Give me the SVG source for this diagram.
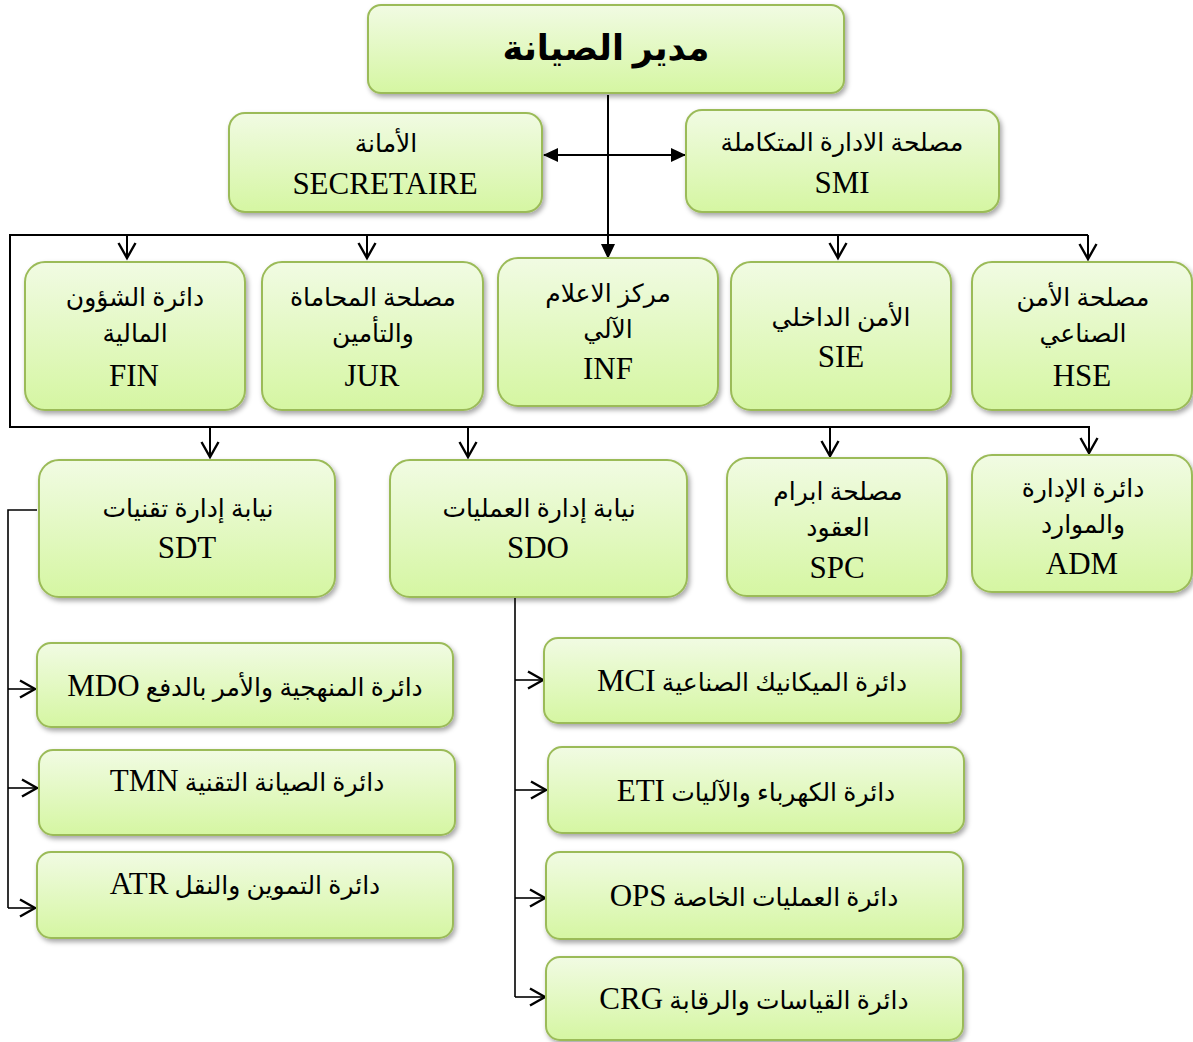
<svg xmlns="http://www.w3.org/2000/svg" width="1193" height="1042" viewBox="0 0 1193 1042">
<defs>
<linearGradient id="g" x1="0" y1="0" x2="0" y2="1">
<stop offset="0" stop-color="#f1fbe3"/>
<stop offset="1" stop-color="#d5f6a2"/>
</linearGradient>
<filter id="sh" x="-10%" y="-10%" width="125%" height="130%">
<feDropShadow dx="2" dy="3" stdDeviation="2.5" flood-color="#000" flood-opacity="0.35"/>
</filter>
<marker id="open" markerUnits="userSpaceOnUse" markerWidth="20" markerHeight="22" refX="17" refY="10" orient="auto" viewBox="0 0 20 22">
<path d="M2,1.5 L17,10 L2,18.5" fill="none" stroke="#000" stroke-width="2.4"/>
</marker>
<marker id="fill" markerUnits="userSpaceOnUse" markerWidth="16" markerHeight="14" refX="14" refY="7" orient="auto" viewBox="0 0 16 14">
<path d="M0,0 L15,7 L0,14 Z" fill="#000"/>
</marker>
<marker id="fillS" markerUnits="userSpaceOnUse" markerWidth="16" markerHeight="14" refX="2" refY="7" orient="auto" viewBox="0 0 16 14">
<path d="M16,0 L1,7 L16,14 Z" fill="#000"/>
</marker>
</defs>
<style>
.box{fill:url(#g);stroke:#9bbb59;stroke-width:2;filter:url(#sh)}
.ar{font-family:"Liberation Serif","DejaVu Sans",serif;font-size:25px;fill:#000;text-anchor:middle}
.la{font-family:"Liberation Serif","DejaVu Serif",serif;font-size:31px;fill:#000;text-anchor:middle}
.lt2{font-family:"Liberation Serif",serif;font-size:31px}
.ln{fill:none;stroke:#000;stroke-width:2}
.lt{fill:none;stroke:#000;stroke-width:1.6}
</style>
<g id="connectors">
<line class="ln" x1="608" y1="95" x2="608" y2="258" marker-end="url(#fill)"/>
<line class="ln" x1="544" y1="155" x2="685" y2="155" marker-start="url(#fillS)" marker-end="url(#fill)"/>
<polyline class="ln" points="1088,235 10,235 10,427 1090,427"/>
<line class="ln" x1="127" y1="235" x2="127" y2="258" marker-end="url(#open)"/>
<line class="ln" x1="367" y1="235" x2="367" y2="258" marker-end="url(#open)"/>
<line class="ln" x1="838" y1="235" x2="838" y2="258" marker-end="url(#open)"/>
<line class="ln" x1="1088" y1="235" x2="1088" y2="259" marker-end="url(#open)"/>
<line class="ln" x1="210" y1="427" x2="210" y2="457" marker-end="url(#open)"/>
<line class="ln" x1="468" y1="427" x2="468" y2="457" marker-end="url(#open)"/>
<line class="ln" x1="830" y1="427" x2="830" y2="456" marker-end="url(#open)"/>
<line class="ln" x1="1089" y1="427" x2="1089" y2="453" marker-end="url(#open)"/>
<polyline class="lt" points="37,510 8,510 8,908"/>
<line class="lt" x1="8" y1="689" x2="35" y2="689" marker-end="url(#open)"/>
<line class="lt" x1="8" y1="788" x2="37" y2="788" marker-end="url(#open)"/>
<line class="lt" x1="8" y1="908" x2="35" y2="908" marker-end="url(#open)"/>
<line class="lt" x1="515" y1="598" x2="515" y2="997"/>
<line class="lt" x1="515" y1="680" x2="543" y2="680" marker-end="url(#open)"/>
<line class="lt" x1="515" y1="790" x2="546" y2="790" marker-end="url(#open)"/>
<line class="lt" x1="515" y1="898" x2="545" y2="898" marker-end="url(#open)"/>
<line class="lt" x1="515" y1="997" x2="545" y2="997" marker-end="url(#open)"/>
</g>
<g id="n-dir"><rect class="box" x="368" y="5" width="476" height="88" rx="13"/>
<text x="606" y="60" direction="rtl" style="font-family:'Liberation Serif','DejaVu Sans',serif;font-size:35px;font-weight:bold;text-anchor:middle">مدير الصيانة</text></g>
<g id="n-sec"><rect class="box" x="229" y="113" width="313" height="99" rx="16"/>
<text class="ar" x="386" y="152" direction="rtl">الأمانة</text><text class="la" x="385" y="194">SECRETAIRE</text></g>
<g id="n-smi"><rect class="box" x="686" y="110" width="313" height="102" rx="16"/>
<text class="ar" x="842" y="151" direction="rtl">مصلحة الادارة المتكاملة</text><text class="la" x="842" y="193">SMI</text></g>
<g id="n-fin"><rect class="box" x="25" y="262" width="220" height="148" rx="20"/>
<text class="ar" x="135" y="306" direction="rtl">دائرة الشؤون</text><text class="ar" x="135" y="342" direction="rtl">المالية</text><text class="la" x="134" y="386">FIN</text></g>
<g id="n-jur"><rect class="box" x="262" y="262" width="221" height="148" rx="20"/>
<text class="ar" x="373" y="306" direction="rtl">مصلحة المحاماة</text><text class="ar" x="373" y="342" direction="rtl">والتأمين</text><text class="la" x="372" y="386">JUR</text></g>
<g id="n-inf"><rect class="box" x="498" y="258" width="220" height="148" rx="20"/>
<text class="ar" x="608" y="302" direction="rtl">مركز الاعلام</text><text class="ar" x="608" y="338" direction="rtl">الآلي</text><text class="la" x="608" y="379">INF</text></g>
<g id="n-sie"><rect class="box" x="731" y="262" width="220" height="148" rx="20"/>
<text class="ar" x="841" y="326" direction="rtl">الأمن الداخلي</text><text class="la" x="841" y="367">SIE</text></g>
<g id="n-hse"><rect class="box" x="972" y="262" width="220" height="148" rx="20"/>
<text class="ar" x="1083" y="306" direction="rtl">مصلحة الأمن</text><text class="ar" x="1083" y="342" direction="rtl">الصناعي</text><text class="la" x="1082" y="386">HSE</text></g>
<g id="n-sdt"><rect class="box" x="39" y="460" width="296" height="137" rx="20"/>
<text class="ar" x="188" y="517" direction="rtl">نيابة إدارة تقنيات</text><text class="la" x="187" y="558">SDT</text></g>
<g id="n-sdo"><rect class="box" x="390" y="460" width="297" height="137" rx="20"/>
<text class="ar" x="539" y="517" direction="rtl">نيابة إدارة العمليات</text><text class="la" x="538" y="558">SDO</text></g>
<g id="n-spc"><rect class="box" x="727" y="458" width="220" height="138" rx="20"/>
<text class="ar" x="838" y="500" direction="rtl">مصلحة ابرام</text><text class="ar" x="838" y="536" direction="rtl">العقود</text><text class="la" x="837" y="578">SPC</text></g>
<g id="n-adm"><rect class="box" x="972" y="455" width="220" height="137" rx="20"/>
<text class="ar" x="1083" y="497" direction="rtl">دائرة الإدارة</text><text class="ar" x="1083" y="533" direction="rtl">والموارد</text><text class="la" x="1082" y="574">ADM</text></g>
<g id="n-mdo"><rect class="box" x="37" y="643" width="416" height="84" rx="14"/>
<text class="ar" x="245" y="696" direction="rtl">دائرة المنهجية والأمر بالدفع <tspan class="lt2">MDO</tspan></text></g>
<g id="n-tmn"><rect class="box" x="39" y="750" width="416" height="85" rx="14"/>
<text class="ar" x="247" y="791" direction="rtl">دائرة الصيانة التقنية <tspan class="lt2">TMN</tspan></text></g>
<g id="n-atr"><rect class="box" x="37" y="852" width="416" height="86" rx="14"/>
<text class="ar" x="245" y="894" direction="rtl">دائرة التموين والنقل <tspan class="lt2">ATR</tspan></text></g>
<g id="n-mci"><rect class="box" x="544" y="638" width="417" height="85" rx="14"/>
<text class="ar" x="752" y="691" direction="rtl">دائرة الميكانيك الصناعية <tspan class="lt2">MCI</tspan></text></g>
<g id="n-eti"><rect class="box" x="548" y="747" width="416" height="86" rx="14"/>
<text class="ar" x="756" y="801" direction="rtl">دائرة الكهرباء والآليات <tspan class="lt2">ETI</tspan></text></g>
<g id="n-ops"><rect class="box" x="546" y="852" width="417" height="87" rx="14"/>
<text class="ar" x="754" y="906" direction="rtl">دائرة العمليات الخاصة <tspan class="lt2">OPS</tspan></text></g>
<g id="n-crg"><rect class="box" x="546" y="957" width="417" height="83" rx="14"/>
<text class="ar" x="754" y="1009" direction="rtl">دائرة القياسات والرقابة <tspan class="lt2">CRG</tspan></text></g>
</svg>
